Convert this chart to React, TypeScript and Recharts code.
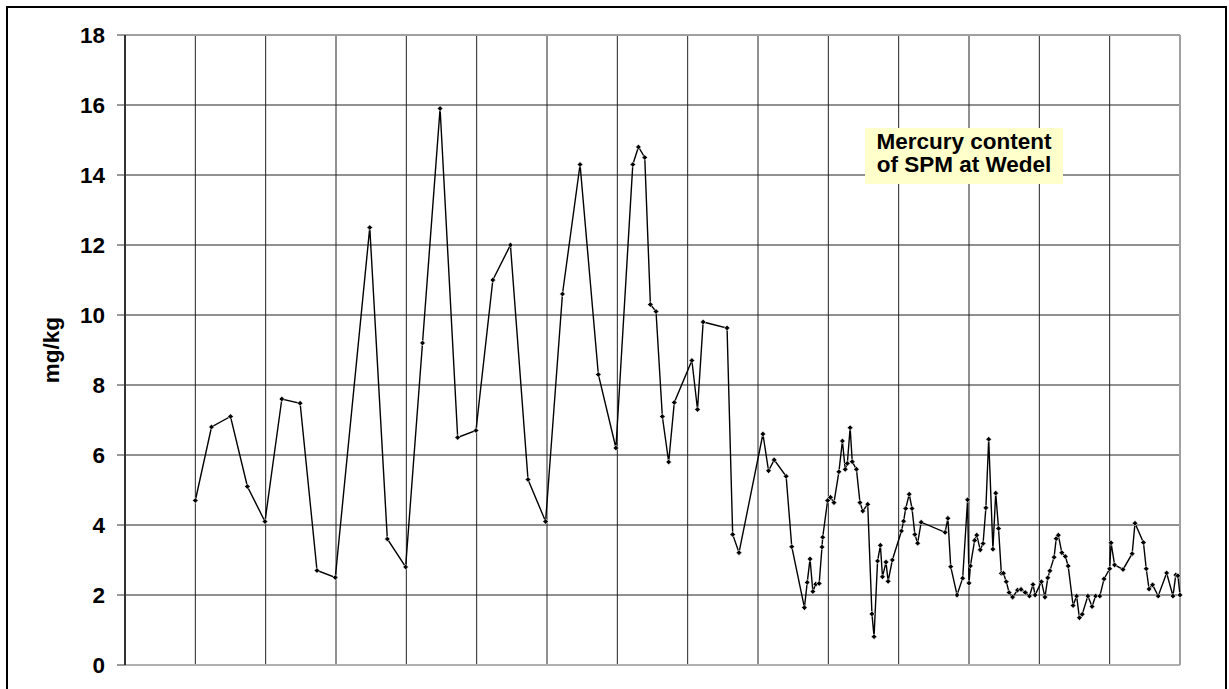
import React from 'react';
import { LineChart, Line, XAxis, YAxis, CartesianGrid, ReferenceLine } from 'recharts';

// position along the time axis (one grid column per unit)
const timePos = [
    1.00, 1.23, 1.50, 1.74, 1.99, 2.23, 2.49, 2.73, 2.99, 3.48,
    3.73, 3.99, 4.23, 4.48, 4.73, 4.99, 5.23, 5.48, 5.73, 5.98,
    6.22, 6.47, 6.73, 6.98, 7.22, 7.30, 7.39, 7.47, 7.55, 7.64,
    7.73, 7.81, 8.06, 8.14, 8.22, 8.56, 8.64, 8.73, 9.07, 9.15,
    9.23, 9.40, 9.48, 9.66, 9.70, 9.74, 9.78, 9.82, 9.87, 9.91,
    9.92, 9.99, 10.03, 10.08, 10.15, 10.20, 10.24, 10.27, 10.31, 10.34,
    10.40, 10.45, 10.49, 10.56, 10.62, 10.65, 10.70, 10.74, 10.77, 10.82,
    10.85, 10.91, 11.04, 11.07, 11.10, 11.15, 11.19, 11.23, 11.27, 11.32,
    11.66, 11.70, 11.74, 11.83, 11.91, 11.98, 12.00, 12.02, 12.08, 12.11,
    12.16, 12.20, 12.24, 12.28, 12.34, 12.38, 12.42, 12.46, 12.49, 12.53,
    12.57, 12.62, 12.69, 12.74, 12.80, 12.86, 12.91, 12.94, 13.03, 13.08,
    13.12, 13.15, 13.21, 13.24, 13.27, 13.32, 13.37, 13.41, 13.48, 13.53,
    13.57, 13.61, 13.69, 13.75, 13.80, 13.86, 13.92, 14.00, 14.02, 14.07,
    14.19, 14.32, 14.36, 14.48, 14.52, 14.56, 14.61, 14.69, 14.81, 14.90,
    14.94, 14.97, 15.00,
];

// mercury content, mg/kg
const mercury = [
    4.7, 6.8, 7.1, 5.1, 4.1, 7.6, 7.48, 2.7, 2.5, 12.5,
    3.6, 2.8, 9.2, 15.9, 6.5, 6.7, 11.0, 12.0, 5.3, 4.1,
    10.6, 14.3, 8.3, 6.2, 14.3, 14.8, 14.5, 10.3, 10.1, 7.1,
    5.8, 7.5, 8.7, 7.3, 9.8, 9.63, 3.73, 3.21, 6.6, 5.55,
    5.86, 5.39, 3.38, 1.64, 2.36, 3.03, 2.1, 2.31, 2.33, 3.37,
    3.65, 4.7, 4.79, 4.64, 5.52, 6.4, 5.59, 5.76, 6.78, 5.81,
    5.59, 4.64, 4.4, 4.59, 1.46, 0.81, 2.97, 3.42, 2.52, 2.94,
    2.39, 3.0, 3.83, 4.11, 4.47, 4.88, 4.47, 3.73, 3.48, 4.08,
    3.79, 4.19, 2.81, 2.0, 2.48, 4.72, 2.34, 2.83, 3.56, 3.71,
    3.29, 3.47, 4.49, 6.45, 3.31, 4.91, 3.9, 2.62, 2.62, 2.38,
    2.07, 1.94, 2.14, 2.16, 2.07, 1.97, 2.3, 2.0, 2.38, 1.94,
    2.49, 2.69, 3.08, 3.61, 3.71, 3.21, 3.1, 2.83, 1.7, 1.97,
    1.35, 1.45, 1.97, 1.67, 1.97, 1.97, 2.46, 2.75, 3.49, 2.86,
    2.73, 3.18, 4.05, 3.5, 2.75, 2.17, 2.29, 1.97, 2.63, 1.97,
    2.57, 2.55, 2.0,
];

const xTicks = [0, 1, 2, 3, 4, 5, 6, 7, 8, 9, 10, 11, 12, 13, 14, 15];
const yTicks = [0, 2, 4, 6, 8, 10, 12, 14, 16, 18];

const data = timePos.map((t, i) => ({ t, hg: mercury[i] }));

const font = 'Arial, "Liberation Sans", sans-serif';

const Diamond = (props: any) => {
    const { cx, cy, index } = props;
    if (cx == null || cy == null) return null;
    const s = 2.8;
    return (
        <path
            key={`d-${index}`}
            d={`M${cx},${cy - s}L${cx + s},${cy}L${cx},${cy + s}L${cx - s},${cy}Z`}
            fill="#000"
            stroke="#fff"
            strokeWidth={0.6}
        />
    );
};

export default function App() {
    return (
        <div style={{ position: 'absolute', left: 0, top: 0, width: 1229, height: 689, overflow: 'hidden', background: '#fff' }}>
            <div
                style={{
                    position: 'absolute',
                    left: 6,
                    top: 6,
                    width: 1217,
                    height: 720,
                    border: '2px solid #000',
                }}
            />
            <div style={{ position: 'absolute', left: 0, top: 0 }}>
                <LineChart width={1229} height={689} data={data} margin={{ top: 35, right: 49, bottom: 24, left: 0 }}>
                    <CartesianGrid stroke="#222" strokeWidth={1} />
                    <XAxis
                        dataKey="t"
                        type="number"
                        domain={[0, 15]}
                        ticks={xTicks}
                        hide
                    />
                    <YAxis
                        width={125}
                        domain={[0, 18]}
                        ticks={yTicks}
                        interval={0}
                        axisLine={{ stroke: '#333', strokeWidth: 2 }}
                        tickLine={{ stroke: '#333', strokeWidth: 1 }}
                        tickSize={8}
                        tickMargin={12}
                        tick={{ fill: '#000', fontSize: 22.5, fontWeight: 'bold', fontFamily: font }}
                    />
                    <ReferenceLine y={18} stroke="#a0a0a0" strokeWidth={2} />
                    <ReferenceLine y={0} stroke="#b0b0b0" strokeWidth={2} />
                    <ReferenceLine x={15} stroke="#a0a0a0" strokeWidth={2} />
                    <Line
                        type="linear"
                        dataKey="hg"
                        stroke="#000"
                        strokeWidth={1.4}
                        dot={Diamond}
                        activeDot={false}
                        isAnimationActive={false}
                    />
                </LineChart>
            </div>
            <div
                style={{
                    position: 'absolute',
                    left: 52 - 45,
                    top: 350 - 13,
                    width: 90,
                    height: 26,
                    lineHeight: '26px',
                    textAlign: 'center',
                    transform: 'rotate(-90deg)',
                    fontFamily: font,
                    fontWeight: 'bold',
                    fontSize: 22.5,
                }}
            >
                mg/kg
            </div>
            <div
                style={{
                    position: 'absolute',
                    left: 865,
                    top: 128,
                    width: 198,
                    height: 56,
                    background: '#FFFFCC',
                    fontFamily: font,
                    fontWeight: 'bold',
                    fontSize: 22.5,
                    lineHeight: '23px',
                    textAlign: 'center',
                    paddingTop: 2,
                    boxSizing: 'border-box',
                }}
            >
                Mercury content
                <br />
                of SPM at Wedel
            </div>
        </div>
    );
}
